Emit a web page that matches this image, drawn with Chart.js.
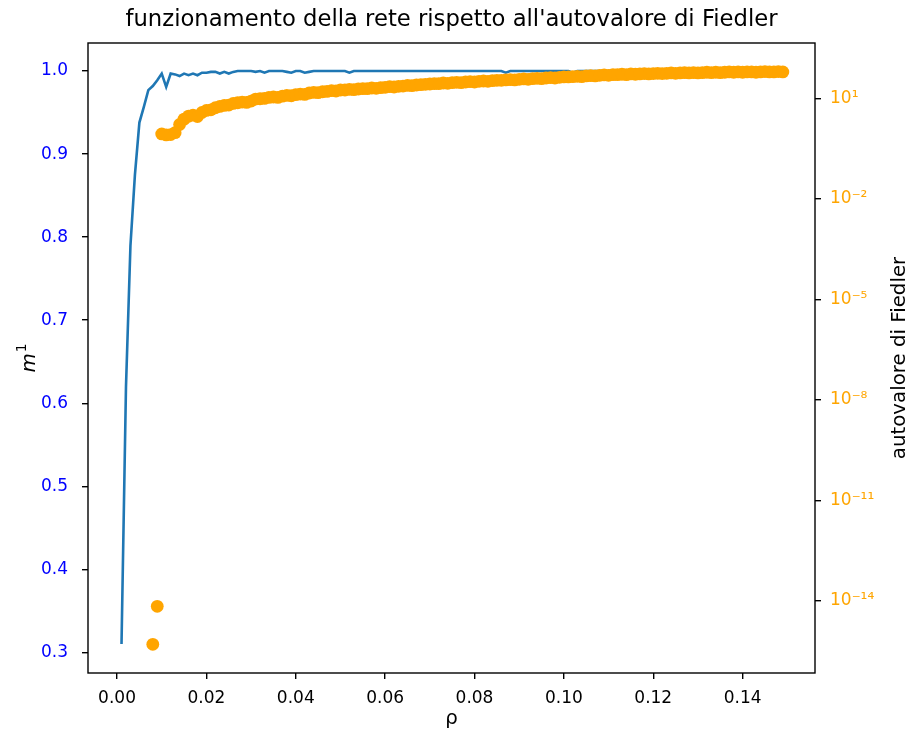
<!DOCTYPE html>
<html><head><meta charset="utf-8">
<script src="https://cdn.jsdelivr.net/npm/chart.js@4/dist/chart.umd.min.js"></script>
<style>html,body{margin:0;padding:0;background:#fff;}#wrap{width:909px;height:735px;}</style>
</head><body><div id="wrap"><canvas id="c" width="909" height="735"></canvas></div>
<script>
const titleText = "funzionamento della rete rispetto all'autovalore di Fiedler";
const xLabel = "ρ";
const rightLabel = "autovalore di Fiedler";

const rho = [
0.001,0.002,0.003,0.004,0.005,0.006,0.007,0.008,0.009,0.010,
0.011,0.012,0.013,0.014,0.015,0.016,0.017,0.018,0.019,0.020,
0.021,0.022,0.023,0.024,0.025,0.026,0.027,0.028,0.029,0.030,
0.031,0.032,0.033,0.034,0.035,0.036,0.037,0.038,0.039,0.040,
0.041,0.042,0.043,0.044,0.045,0.046,0.047,0.048,0.049,0.050,
0.051,0.052,0.053,0.054,0.055,0.056,0.057,0.058,0.059,0.060,
0.061,0.062,0.063,0.064,0.065,0.066,0.067,0.068,0.069,0.070,
0.071,0.072,0.073,0.074,0.075,0.076,0.077,0.078,0.079,0.080,
0.081,0.082,0.083,0.084,0.085,0.086,0.087,0.088,0.089,0.090,
0.091,0.092,0.093,0.094,0.095,0.096,0.097,0.098,0.099,0.100,
0.101,0.102,0.103,0.104,0.105,0.106,0.107,0.108,0.109,0.110,
0.111,0.112,0.113,0.114,0.115,0.116,0.117,0.118,0.119,0.120,
0.121,0.122,0.123,0.124,0.125,0.126,0.127,0.128,0.129,0.130,
0.131,0.132,0.133,0.134,0.135,0.136,0.137,0.138,0.139,0.140,
0.141,0.142,0.143,0.144,0.145,0.146,0.147,0.148,0.149
];

const m1 = [
0.31,0.62,0.79,0.875,0.938,0.957,0.977,0.982,0.989,0.997,
0.981,0.997,0.996,0.994,0.997,0.995,0.997,0.995,0.998,0.998,
0.999,0.999,0.997,0.999,0.997,0.999,1.0,1.0,1.0,1.0,
0.999,1.0,0.998,1.0,1.0,1.0,1.0,0.999,0.998,1.0,
1.0,0.998,0.999,1.0,1.0,1.0,1.0,1.0,1.0,1.0,
1.0,0.998,1.0,1.0,1.0,1.0,1.0,1.0,1.0,1.0,
1.0,1.0,1.0,1.0,1.0,1.0,1.0,1.0,1.0,1.0,
1.0,1.0,1.0,1.0,1.0,1.0,1.0,1.0,1.0,1.0,
1.0,1.0,1.0,1.0,1.0,1.0,0.998,1.0,1.0,1.0,
1.0,1.0,1.0,1.0,1.0,1.0,1.0,1.0,1.0,1.0,
1.0,0.998,1.0,1.0,1.0,1.0,1.0,1.0,1.0,1.0,
1.0,1.0,1.0,1.0,1.0,1.0,1.0,1.0,1.0,1.0,
1.0,1.0,1.0,1.0,1.0,1.0,1.0,1.0,1.0,1.0,
1.0,1.0,1.0,1.0,1.0,1.0,1.0,1.0,1.0,1.0,
1.0,1.0,1.0,1.0,1.0,1.0,1.0,1.0,1.0
];

const fiedler = [
null,null,null,null,null,null,null,5e-16,6.8e-15,0.87,
0.81,0.83,0.95,1.66,2.40,2.95,3.16,2.88,3.80,4.37,
4.57,5.25,5.75,6.17,6.31,7.08,7.41,7.76,7.59,8.32,
9.55,9.77,10.0,10.7,11.0,10.7,11.7,12.3,12.0,12.9,
13.5,13.2,14.5,15.1,14.8,15.8,16.2,17.0,16.6,17.8,
17.8,18.6,18.2,19.1,19.5,19.5,20.4,20.0,20.9,21.4,
22.4,21.9,22.9,23.4,24.5,24.0,25.1,25.7,26.3,26.9,
27.5,27.5,28.8,28.2,29.5,30.2,29.5,30.9,31.6,30.9,
32.4,33.1,32.4,33.9,34.7,34.7,35.5,36.3,35.5,37.2,
38.0,37.2,38.9,39.8,38.9,40.7,41.7,40.7,42.7,43.7,
43.7,44.7,45.7,44.7,46.8,47.9,46.8,49.0,50.1,49.0,
51.3,51.3,52.5,51.3,53.7,52.5,53.7,55.0,53.7,55.0,
56.2,55.0,56.2,57.5,56.2,57.5,58.9,57.5,58.9,57.5,
58.9,60.3,58.9,60.3,58.9,60.3,61.7,60.3,61.7,60.3,
61.7,61.7,60.3,61.7,63.1,61.7,61.7,63.1,61.7
];

const xTicks = [0.00,0.02,0.04,0.06,0.08,0.10,0.12,0.14];
const yTicks = [0.3,0.4,0.5,0.6,0.7,0.8,0.9,1.0];
const y2Ticks = [1e1,1e-2,1e-5,1e-8,1e-11,1e-14];

const SUP = {'-':'⁻','0':'⁰','1':'¹','2':'²','3':'³','4':'⁴','5':'⁵','6':'⁶','7':'⁷','8':'⁸','9':'⁹'};
function supStr(n){ return String(n).split('').map(c=>SUP[c]).join(''); }

const FONT = "'DejaVu Sans', sans-serif";

const decor = {
  id: 'decor',
  afterDraw(chart) {
    const ctx = chart.ctx, a = chart.chartArea;
    ctx.save();
    ctx.strokeStyle = '#000';
    ctx.lineWidth = 1.4;
    ctx.strokeRect(a.left, a.top, a.right - a.left, a.bottom - a.top);
    ctx.fillStyle = '#000';
    const cx = (a.left + a.right) / 2;
    ctx.textAlign = 'center';
    ctx.textBaseline = 'alphabetic';
    ctx.font = '22.7px ' + FONT;
    ctx.fillText(titleText, cx, 26);
    ctx.font = '19.8px ' + FONT;
    ctx.fillText(xLabel, cx, 724);
    // left label m^1
    ctx.save();
    ctx.translate(35, (a.top + a.bottom) / 2);
    ctx.rotate(-Math.PI / 2);
    ctx.font = 'italic 19.8px ' + FONT;
    const wm = ctx.measureText('m').width;
    ctx.font = '14px ' + FONT;
    const w1 = ctx.measureText('1').width;
    const tot = wm + w1 + 1;
    ctx.textAlign = 'left';
    ctx.font = 'italic 19.8px ' + FONT;
    ctx.fillText('m', -tot / 2, 0);
    ctx.font = '14px ' + FONT;
    ctx.fillText('1', -tot / 2 + wm + 1, -9);
    ctx.restore();
    // right label
    ctx.save();
    ctx.translate(905, (a.top + a.bottom) / 2);
    ctx.rotate(-Math.PI / 2);
    ctx.font = '19.8px ' + FONT;
    ctx.textAlign = 'center';
    ctx.fillText(rightLabel, 0, 0);
    ctx.restore();
    ctx.restore();
  }
};

const tickGrid = { display: true, drawOnChartArea: false, drawTicks: true, tickLength: 6, color: '#000', lineWidth: 1.4 };

new Chart(document.getElementById('c'), {
  type: 'scatter',
  data: {
    datasets: [
      {
        label: 'fiedler',
        data: rho.map((x, i) => ({ x: x, y: fiedler[i] })).filter(p => p.y !== null),
        yAxisID: 'y2',
        showLine: false,
        pointRadius: 6.4,
        pointHoverRadius: 6.4,
        pointBackgroundColor: '#FFA500',
        pointBorderWidth: 0,
        borderColor: '#FFA500',
        order: 0
      },
      {
        label: 'm1',
        data: rho.map((x, i) => ({ x: x, y: m1[i] })),
        yAxisID: 'y',
        showLine: true,
        pointRadius: 0,
        pointHoverRadius: 0,
        borderColor: '#1f77b4',
        borderWidth: 2.6,
        tension: 0,
        order: 1
      }
    ]
  },
  plugins: [decor],
  options: {
    responsive: false,
    animation: false,
    devicePixelRatio: 1,
    layout: { padding: { top: 43, left: 0, right: 0, bottom: 0 } },
    plugins: { legend: { display: false }, title: { display: false }, tooltip: { enabled: false } },
    scales: {
      x: {
        type: 'linear', position: 'bottom', min: -0.0065, max: 0.1562,
        border: { display: false },
        grid: tickGrid,
        afterBuildTicks: s => { s.ticks = xTicks.map(v => ({ value: v })); },
        afterFit: s => { s.height = 62; },
        ticks: { color: '#000', font: { family: FONT, size: 17 }, padding: 9, maxRotation: 0, autoSkip: false, callback: v => v.toFixed(2) }
      },
      y: {
        type: 'linear', position: 'left', min: 0.2751, max: 1.0338,
        border: { display: false },
        grid: tickGrid,
        afterBuildTicks: s => { s.ticks = yTicks.map(v => ({ value: v })); },
        afterFit: s => { s.width = 88; },
        ticks: { color: '#0000FF', font: { family: FONT, size: 17 }, padding: 14, autoSkip: false, callback: v => v.toFixed(1) }
      },
      y2: {
        type: 'logarithmic', position: 'right', min: 6.95e-17, max: 450.8,
        bounds: 'data',
        border: { display: false },
        grid: tickGrid,
        afterBuildTicks: s => { s.ticks = y2Ticks.map(v => ({ value: v })); },
        afterFit: s => { s.width = 94; },
        ticks: { color: '#FFA500', font: { family: FONT, size: 17 }, padding: 9, autoSkip: false, callback: v => '10' + supStr(Math.round(Math.log10(v))) }
      }
    }
  }
});
</script>
</body></html>
